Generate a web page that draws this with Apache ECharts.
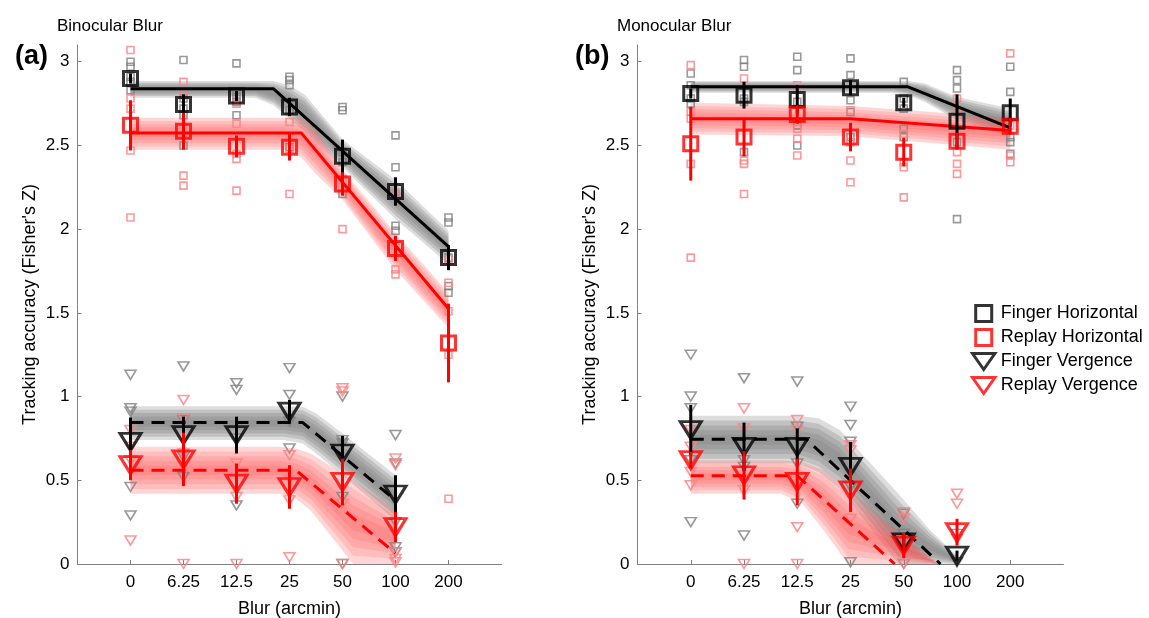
<!DOCTYPE html>
<html><head><meta charset="utf-8">
<script src="https://cdn.jsdelivr.net/npm/echarts@6/dist/echarts.min.js"></script>
<style>html,body{margin:0;padding:0;background:#fff}#c{width:1149px;height:618px}</style>
</head><body><div id="c"></div>
<script>
// ---------- categories / ticks ----------
const categories = ['0', '6.25', '12.5', '25', '50', '100', '200'];
const yTicks = [0, 0.5, 1, 1.5, 2, 2.5, 3];

// ---------- Panel (a) Binocular Blur : means & errors ----------
const aFingerHMean = [2.90, 2.745, 2.795, 2.73, 2.435, 2.225, 1.83];
const aFingerHErr  = [0.03, 0.06, 0.03, 0.055, 0.10, 0.085, 0.075];
const aReplayHMean = [2.62, 2.585, 2.495, 2.49, 2.27, 1.885, 1.32];
const aReplayHErr  = [0.15, 0.11, 0.065, 0.08, 0.07, 0.075, 0.235];
const aFingerVMean = [0.73, 0.77, 0.77, 0.91, 0.66, 0.415, null];
const aFingerVErr  = [0.145, 0.11, 0.11, 0.07, 0.105, 0.115, null];
const aReplayVMean = [0.59, 0.625, 0.48, 0.46, 0.49, 0.22, null];
const aReplayVErr  = [0.09, 0.16, 0.12, 0.13, 0.14, 0.09, null];

// individual subjects (a)
const aFingerHPts = [[3.00,2.97,2.91,2.88,2.83],[3.01,2.78,2.72,2.68,2.50],[2.99,2.82,2.79,2.76,2.68],[2.91,2.89,2.86,2.71,2.49],[2.73,2.71,2.46,2.40,2.21],[2.56,2.37,2.21,2.02,1.99],[2.07,2.04,1.83,1.66,1.62]];
const aReplayHPts = [[3.07,2.78,2.72,2.47,2.07],[2.88,2.80,2.60,2.32,2.26],[2.75,2.63,2.45,2.42,2.23],[2.64,2.55,2.48,2.21],[2.30,2.25,2.00],[2.21,1.90,1.76,1.73],[1.82,1.68,1.51,1.25,0.39]];
const aFingerVPts = [[1.13,0.93,0.91,0.46,0.29],[1.18,0.86,0.64,0.52],[1.08,1.04,0.75,0.35],[1.17,1.01,0.85,0.69],[1.00,0.74,0.72,0.40,0.00],[0.77,0.60,0.25,0.10,0.07],[]];
const aReplayVPts = [[0.80,0.70,0.62,0.14],[0.98,0.87,0.66,0.00],[0.60,0.40,0.00],[0.65,0.51,0.38,0.04],[1.05,1.03,0.36,0.00],[0.63,0.59,0.07,0.03,0.01],[]];

// fits (a): x in category-index units
const aFingerHFitX = [0, 2.70, 6],  aFingerHFitY = [2.838, 2.838, 1.896];
const aReplayHFitX = [0, 3.22, 6],  aReplayHFitY = [2.575, 2.575, 1.525];
const aFingerVFitX = [0, 3.25, 5],  aFingerVFitY = [0.845, 0.845, 0.38];
const aReplayVFitX = [0, 3.12, 5],  aReplayVFitY = [0.56, 0.56, 0.064];

// bootstrap bands (a)
const aFingerHBandX = [0, 2.35, 2.7, 3.0, 3.3, 4, 5, 6];
const aFingerHBandHi = [2.885, 2.885, 2.885, 2.86, 2.80, 2.535, 2.295, 1.99];
const aFingerHBandLo = [2.785, 2.785, 2.74, 2.66, 2.58, 2.37, 2.06, 1.79];
const aReplayHBandX = [0, 2.9, 3.22, 3.5, 4, 5, 6];
const aReplayHBandHi = [2.665, 2.665, 2.665, 2.60, 2.355, 1.976, 1.62];
const aReplayHBandLo = [2.475, 2.475, 2.43, 2.33, 2.175, 1.756, 1.41];
const aFingerVBandX = [0, 2.9, 3.25, 3.5, 4, 5];
const aFingerVBandHi = [0.942, 0.942, 0.94, 0.90, 0.78, 0.53];
const aFingerVBandLo = [0.74, 0.74, 0.72, 0.66, 0.53, 0.26];
const aReplayVBandX = [0, 2.8, 3.12, 3.4, 4, 4.2, 5];
const aReplayVBandHi = [0.70, 0.70, 0.69, 0.66, 0.54, 0.50, 0.32];
const aReplayVBandLo = [0.42, 0.42, 0.39, 0.32, 0.08, 0.0, 0.0];

// ---------- Panel (b) Monocular Blur ----------
const bFingerHMean = [2.81, 2.80, 2.775, 2.845, 2.755, 2.645, 2.695];
const bFingerHErr  = [0.03, 0.08, 0.085, 0.045, 0.03, 0.16, 0.085];
const bReplayHMean = [2.51, 2.55, 2.685, 2.55, 2.46, 2.525, 2.615];
const bReplayHErr  = [0.22, 0.115, 0.055, 0.085, 0.085, 0.05, 0.05];
const bFingerVMean = [0.80, 0.70, 0.70, 0.58, 0.13, 0.05, null];
const bFingerVErr  = [0.15, 0.145, 0.11, 0.15, 0.05, 0.03, null];
const bReplayVMean = [0.62, 0.53, 0.49, 0.44, 0.11, 0.19, null];
const bReplayVErr  = [0.05, 0.145, 0.14, 0.13, 0.075, 0.08, null];

const bFingerHPts = [[2.93,2.86,2.78,2.75],[3.01,2.97,2.78,2.76,2.46],[3.03,2.95,2.76,2.62,2.50],[3.02,2.92,2.77,2.70,2.55],[2.88,2.78,2.72,2.60,2.55],[2.95,2.89,2.84,2.52,2.06],[2.97,2.82,2.55,2.52,2.45]];
const bReplayHPts = [[2.98,2.70,2.66,2.39,1.83],[2.90,2.41,2.39,2.21],[2.86,2.60,2.54,2.44],[2.71,2.52,2.41,2.28],[2.57,2.40,2.37,2.19],[2.78,2.70,2.46,2.39,2.33],[3.05,2.62,2.44,2.40]];
const bFingerVPts = [[1.25,1.00,0.93,0.62,0.25],[1.11,0.62,0.58,0.17],[1.09,0.82,0.60,0.36],[0.94,0.83,0.73,0.46,0.01],[0.30,0.18,0.00],[0.18,0.01],[]];
const bReplayVPts = [[0.80,0.70,0.55,0.47],[0.93,0.81,0.44,0.00],[0.86,0.80,0.22,0.00],[0.71,0.68,0.27],[0.31,0.27,0.00],[0.42,0.36,0.15],[]];

const bFingerHFitX = [0, 4.08, 6],  bFingerHFitY = [2.85, 2.85, 2.605];
const bReplayHFitX = [0, 3, 6],     bReplayHFitY = [2.66, 2.66, 2.59];
const bFingerVFitX = [0, 2.17, 4.69], bFingerVFitY = [0.745, 0.745, 0];
const bReplayVFitX = [0, 2.0, 3.83],  bReplayVFitY = [0.527, 0.527, 0];

const bFingerHBandX = [0, 3.8, 4.08, 4.4, 5, 6];
const bFingerHBandHi = [2.885, 2.885, 2.885, 2.87, 2.79, 2.72];
const bFingerHBandLo = [2.815, 2.815, 2.80, 2.76, 2.65, 2.55];
const bReplayHBandX = [0, 3, 6];
const bReplayHBandHi = [2.755, 2.735, 2.665];
const bReplayHBandLo = [2.565, 2.555, 2.475];
const bFingerVBandX = [0, 2.0, 2.4, 2.8, 3.9, 4.5, 5];
const bFingerVBandHi = [0.885, 0.885, 0.87, 0.80, 0.42, 0.20, 0.05];
const bFingerVBandLo = [0.60, 0.60, 0.55, 0.45, 0.0, 0.0, 0.0];
const bReplayVBandX = [0, 1.7, 2.1, 2.5, 2.95, 3.5, 4.0, 4.65];
const bReplayVBandHi = [0.62, 0.62, 0.61, 0.56, 0.45, 0.30, 0.17, 0.0];
const bReplayVBandLo = [0.42, 0.42, 0.36, 0.20, 0.0, 0.0, 0.0, 0.0];

// ---------- styling ----------
const FONT = 'Liberation Sans, Arial, Helvetica, sans-serif';
const BLACK = '#000000', RED = '#ff0000', GREY = '#7f7f7f', PINK = '#ff8080';
// layered band shading (denser toward the centre): [inset fraction, fill]
const GREY_LAYERS = [[0, 'rgba(128,128,128,0.27)'], [0.1, 'rgba(128,128,128,0.3)'], [0.2, 'rgba(128,128,128,0.3)'], [0.3, 'rgba(128,128,128,0.3)'], [0.4, 'rgba(128,128,128,0.3)']];
const RED_LAYERS  = [[0, 'rgba(255,70,70,0.22)'], [0.1, 'rgba(255,70,70,0.165)'], [0.2, 'rgba(255,70,70,0.165)'], [0.3, 'rgba(255,70,70,0.165)'], [0.4, 'rgba(255,70,70,0.165)']];
const TRI = 'path://M0,0L2,0L1,1.7Z';

function bandSeries(gi, X, hi, lo, layers) {
  return {
    type: 'custom', xAxisIndex: gi, yAxisIndex: gi, silent: true, z: 1,
    data: [[X[0], hi[0]]],
    renderItem: function (params, api) {
      const children = layers.map(function (L) {
        const f = L[0], pts = [];
        for (let i = 0; i < X.length; i++) {
          const w = hi[i] - lo[i];
          pts.push(api.coord([X[i], hi[i] - f * w]));
        }
        for (let i = X.length - 1; i >= 0; i--) {
          const w = hi[i] - lo[i];
          pts.push(api.coord([X[i], lo[i] + f * w]));
        }
        return { type: 'polygon', shape: { points: pts }, style: { fill: L[1] } };
      });
      return { type: 'group', children: children };
    }
  };
}
function ptsSeries(gi, arr, sym, size, color) {
  const d = [];
  arr.forEach((vals, i) => vals.forEach(v => d.push([i, v])));
  return { type: 'scatter', xAxisIndex: gi, yAxisIndex: gi, silent: true, z: 2, data: d,
    symbol: sym, symbolSize: size,
    itemStyle: { color: 'transparent', borderColor: color, borderWidth: 1.6 } };
}
function fitSeries(gi, X, Y, color, dashed) {
  return { type: 'line', xAxisIndex: gi, yAxisIndex: gi, silent: true, z: 3,
    data: X.map((x, i) => [x, Y[i]]), symbol: 'none', animation: false,
    lineStyle: { color: color, width: 3, type: dashed ? [13, 8] : 'solid' } };
}
function errSeries(gi, mean, err, color) {
  const d = [];
  mean.forEach((m, i) => { if (m != null) d.push([i, m, err[i]]); });
  return { type: 'custom', xAxisIndex: gi, yAxisIndex: gi, silent: true, z: 5, data: d,
    encode: { x: 0, y: 1 },
    renderItem: function (params, api) {
      const x = api.value(0), m = api.value(1), e = api.value(2);
      const p1 = api.coord([x, m + e]), p2 = api.coord([x, m - e]);
      return { type: 'line', shape: { x1: p1[0], y1: p1[1], x2: p2[0], y2: p2[1] },
        style: { stroke: color, lineWidth: 3 } };
    } };
}
function meanSeries(gi, name, mean, sym, size, color) {
  const d = [];
  mean.forEach((m, i) => { if (m != null) d.push([i, m]); });
  return { type: 'scatter', name: name, xAxisIndex: gi, yAxisIndex: gi, silent: true, z: 4,
    data: d, symbol: sym, symbolSize: size,
    itemStyle: { color: 'transparent', borderColor: color, borderWidth: 3 } };
}
function panel(gi, P) {
  return [
    bandSeries(gi, P.fhBX, P.fhBHi, P.fhBLo, GREY_LAYERS),
    bandSeries(gi, P.rhBX, P.rhBHi, P.rhBLo, RED_LAYERS),
    bandSeries(gi, P.fvBX, P.fvBHi, P.fvBLo, GREY_LAYERS),
    bandSeries(gi, P.rvBX, P.rvBHi, P.rvBLo, RED_LAYERS),
    ptsSeries(gi, P.fhP, 'rect', 7, GREY),
    ptsSeries(gi, P.rhP, 'rect', 7, PINK),
    ptsSeries(gi, P.fvP, TRI, [11, 9], GREY),
    ptsSeries(gi, P.rvP, TRI, [11, 9], PINK),
    fitSeries(gi, P.fhFX, P.fhFY, BLACK, false),
    fitSeries(gi, P.rhFX, P.rhFY, RED, false),
    fitSeries(gi, P.fvFX, P.fvFY, BLACK, true),
    fitSeries(gi, P.rvFX, P.rvFY, RED, true),
    meanSeries(gi, 'Finger Horizontal', P.fhM, 'rect', 14, BLACK),
    meanSeries(gi, 'Replay Horizontal', P.rhM, 'rect', 14, RED),
    meanSeries(gi, 'Finger Vergence', P.fvM, TRI, [21, 17], BLACK),
    meanSeries(gi, 'Replay Vergence', P.rvM, TRI, [21, 17], RED),
    errSeries(gi, P.fhM, P.fhE, BLACK),
    errSeries(gi, P.rhM, P.rhE, RED),
    errSeries(gi, P.fvM, P.fvE, BLACK),
    errSeries(gi, P.rvM, P.rvE, RED)
  ];
}
const A = { fhM: aFingerHMean, fhE: aFingerHErr, rhM: aReplayHMean, rhE: aReplayHErr,
  fvM: aFingerVMean, fvE: aFingerVErr, rvM: aReplayVMean, rvE: aReplayVErr,
  fhP: aFingerHPts, rhP: aReplayHPts, fvP: aFingerVPts, rvP: aReplayVPts,
  fhFX: aFingerHFitX, fhFY: aFingerHFitY, rhFX: aReplayHFitX, rhFY: aReplayHFitY,
  fvFX: aFingerVFitX, fvFY: aFingerVFitY, rvFX: aReplayVFitX, rvFY: aReplayVFitY,
  fhBX: aFingerHBandX, fhBHi: aFingerHBandHi, fhBLo: aFingerHBandLo,
  rhBX: aReplayHBandX, rhBHi: aReplayHBandHi, rhBLo: aReplayHBandLo,
  fvBX: aFingerVBandX, fvBHi: aFingerVBandHi, fvBLo: aFingerVBandLo,
  rvBX: aReplayVBandX, rvBHi: aReplayVBandHi, rvBLo: aReplayVBandLo };
const B = { fhM: bFingerHMean, fhE: bFingerHErr, rhM: bReplayHMean, rhE: bReplayHErr,
  fvM: bFingerVMean, fvE: bFingerVErr, rvM: bReplayVMean, rvE: bReplayVErr,
  fhP: bFingerHPts, rhP: bReplayHPts, fvP: bFingerVPts, rvP: bReplayVPts,
  fhFX: bFingerHFitX, fhFY: bFingerHFitY, rhFX: bReplayHFitX, rhFY: bReplayHFitY,
  fvFX: bFingerVFitX, fvFY: bFingerVFitY, rvFX: bReplayVFitX, rvFY: bReplayVFitY,
  fhBX: bFingerHBandX, fhBHi: bFingerHBandHi, fhBLo: bFingerHBandLo,
  rhBX: bReplayHBandX, rhBHi: bReplayHBandHi, rhBLo: bReplayHBandLo,
  fvBX: bFingerVBandX, fvBHi: bFingerVBandHi, fvBLo: bFingerVBandLo,
  rvBX: bReplayVBandX, rvBHi: bReplayVBandHi, rvBLo: bReplayVBandLo };

function xAxis(gi) {
  return { type: 'value', gridIndex: gi, min: -1, max: 7, interval: 1,
    name: 'Blur (arcmin)', nameLocation: 'middle', nameGap: 36,
    nameTextStyle: { fontSize: 18, color: '#000', fontFamily: FONT },
    axisLine: { show: true, onZero: false, lineStyle: { color: '#808080', width: 1 } },
    axisTick: { show: true, inside: true, length: 4, customValues: [0,1,2,3,4,5,6], lineStyle: { color: '#808080' } },
    axisLabel: { customValues: [0,1,2,3,4,5,6], fontSize: 17, color: '#000', fontFamily: FONT, margin: 10,
      formatter: v => categories[Math.round(v)] ?? '' },
    splitLine: { show: false } };
}
function yAxis(gi) {
  return { type: 'value', gridIndex: gi, min: 0, max: 3.1, interval: 0.5,
    name: "Tracking accuracy (Fisher's Z)", nameLocation: 'middle', nameGap: 38,
    nameTextStyle: { fontSize: 18, color: '#000', fontFamily: FONT },
    axisLine: { show: true, onZero: false, lineStyle: { color: '#808080', width: 1 } },
    axisTick: { show: true, inside: true, length: 4, customValues: yTicks, lineStyle: { color: '#808080' } },
    axisLabel: { customValues: yTicks, fontSize: 17, color: '#000', fontFamily: FONT, margin: 8,
      formatter: v => String(v) },
    splitLine: { show: false } };
}

const chart = echarts.init(document.getElementById('c'), null, { renderer: 'canvas' });
chart.setOption({
  animation: false,
  backgroundColor: '#fff',
  textStyle: { fontFamily: FONT },
  title: [
    { text: 'Binocular Blur', left: 52, top: 13, textStyle: { fontSize: 17, fontWeight: 'normal', color: '#000' } },
    { text: '(a)', left: 10, top: 38, textStyle: { fontSize: 27, fontWeight: 'bold', color: '#000' } },
    { text: 'Monocular Blur', left: 612, top: 13, textStyle: { fontSize: 17, fontWeight: 'normal', color: '#000' } },
    { text: '(b)', left: 570, top: 38, textStyle: { fontSize: 27, fontWeight: 'bold', color: '#000' } }
  ],
  legend: {
    orient: 'vertical', left: 966, top: 299, itemWidth: 24, itemHeight: 16, itemGap: 5.0,
    selectedMode: false,
    textStyle: { fontSize: 18, color: '#000', fontFamily: FONT },
    data: [
      { name: 'Finger Horizontal', icon: 'path://M0,0L1,0L1,1L0,1Z', itemStyle: { color: 'transparent', borderColor: BLACK, borderWidth: 3 } },
      { name: 'Replay Horizontal', icon: 'path://M0,0L1,0L1,1L0,1Z', itemStyle: { color: 'transparent', borderColor: RED, borderWidth: 3 } },
      { name: 'Finger Vergence', icon: 'path://M0,0L1.4,0L0.7,1Z', itemStyle: { color: 'transparent', borderColor: BLACK, borderWidth: 3 } },
      { name: 'Replay Vergence', icon: 'path://M0,0L1.4,0L0.7,1Z', itemStyle: { color: 'transparent', borderColor: RED, borderWidth: 3 } }
    ]
  },
  grid: [
    { left: 77.5, top: 45, width: 424, height: 519, outerBoundsMode: 'none', containLabel: false },
    { left: 637.5, top: 45, width: 426, height: 519, outerBoundsMode: 'none', containLabel: false }
  ],
  xAxis: [xAxis(0), xAxis(1)],
  yAxis: [yAxis(0), yAxis(1)],
  series: panel(0, A).concat(panel(1, B))
});
</script></body></html>
